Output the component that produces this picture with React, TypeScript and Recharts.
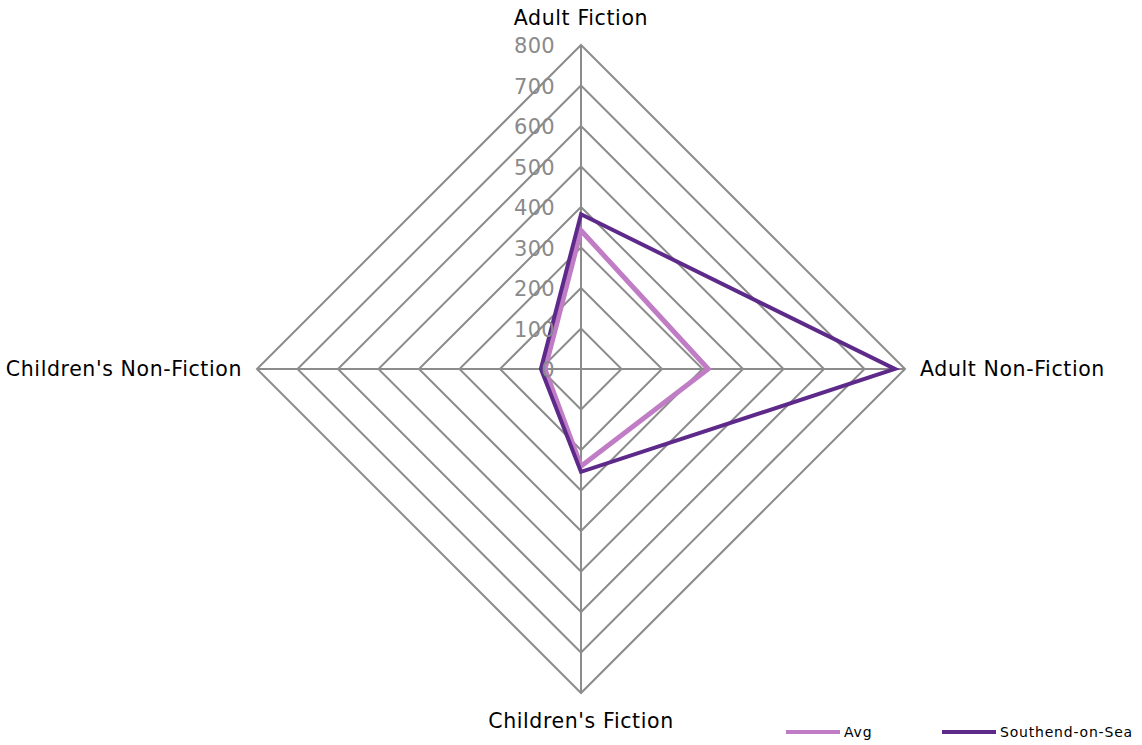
import { RadarChart, Radar, PolarGrid, PolarAngleAxis, PolarRadiusAxis } from "recharts";

const categories = ["Adult Fiction", "Adult Non-Fiction", "Children's Fiction", "Children's Non-Fiction"];
const avgValues = [342, 314, 240, 89];
const southendValues = [382, 775, 254, 99];
const radiusTicks = [0, 100, 200, 300, 400, 500, 600, 700, 800];

const seriesMeta = [
  { key: "avg", name: "Avg", color: "#C07CC4", width: 5, legendX: 786 },
  { key: "southend", name: "Southend-on-Sea", color: "#5E2A8A", width: 4, legendX: 942 },
];

const data = categories.map((c, i) => ({ category: c, avg: avgValues[i], southend: southendValues[i] }));

const CX = 581;
const CY = 369;
const R = 324;
const FONT = "DejaVu Sans, Verdana, sans-serif";

function AngleTick(props: any) {
  const { payload, index } = props;
  // top, right, bottom, left
  const spots = [
    { x: CX, y: CY - R - 27, anchor: "middle" },
    { x: CX + R + 15, y: CY, anchor: "start" },
    { x: CX, y: CY + R + 28, anchor: "middle" },
    { x: CX - R - 15, y: CY, anchor: "end" },
  ];
  const s = spots[index % 4];
  return (
    <text x={s.x} y={s.y} textAnchor={s.anchor} dominantBaseline="central" fontSize={20.5} letterSpacing={0.6} fontFamily={FONT} fill="#000">
      {payload.value}
    </text>
  );
}

function RadiusTick(props: any) {
  const { x, y, payload } = props;
  return (
    <text x={x - 26} y={y + 1} textAnchor="end" dominantBaseline="central" fontSize={21} letterSpacing={0.3} fontFamily={FONT} fill="#8a8a8a">
      {payload.value}
    </text>
  );
}

export default function App() {
  return (
    <div style={{ position: "absolute", left: 0, top: 0, width: 1142, height: 745, background: "#fff" }}>
      <RadarChart width={1142} height={745} data={data} cx={CX} cy={CY} outerRadius={R} margin={{ top: 0, right: 0, bottom: 0, left: 0 }}>
        <PolarGrid gridType="polygon" stroke="#8c8c8c" strokeWidth={2} />
        <PolarAngleAxis dataKey="category" tick={<AngleTick />} tickLine={false} axisLine={false} />
        <PolarRadiusAxis
          angle={90}
          domain={[0, 800]}
          ticks={radiusTicks}
          tickCount={9}
          tick={<RadiusTick />}
          axisLine={false}
          tickLine={false}
        />
        {seriesMeta.map((s) => (
          <Radar
            key={s.key}
            name={s.name}
            dataKey={s.key}
            stroke={s.color}
            strokeWidth={s.width}
            strokeLinejoin="miter"
            fill="none"
            fillOpacity={0}
            dot={false}
            isAnimationActive={false}
          />
        ))}
      </RadarChart>
      {seriesMeta.map((s) => (
        <div
          key={s.key}
          style={{ position: "absolute", left: s.legendX, top: 724, display: "flex", alignItems: "center", fontFamily: FONT, fontSize: 14, letterSpacing: 0.8, color: "#000", whiteSpace: "nowrap" }}
        >
          <span style={{ display: "inline-block", width: 54, height: 4, background: s.color, marginRight: 4 }} />
          <span>{s.name}</span>
        </div>
      ))}
    </div>
  );
}
